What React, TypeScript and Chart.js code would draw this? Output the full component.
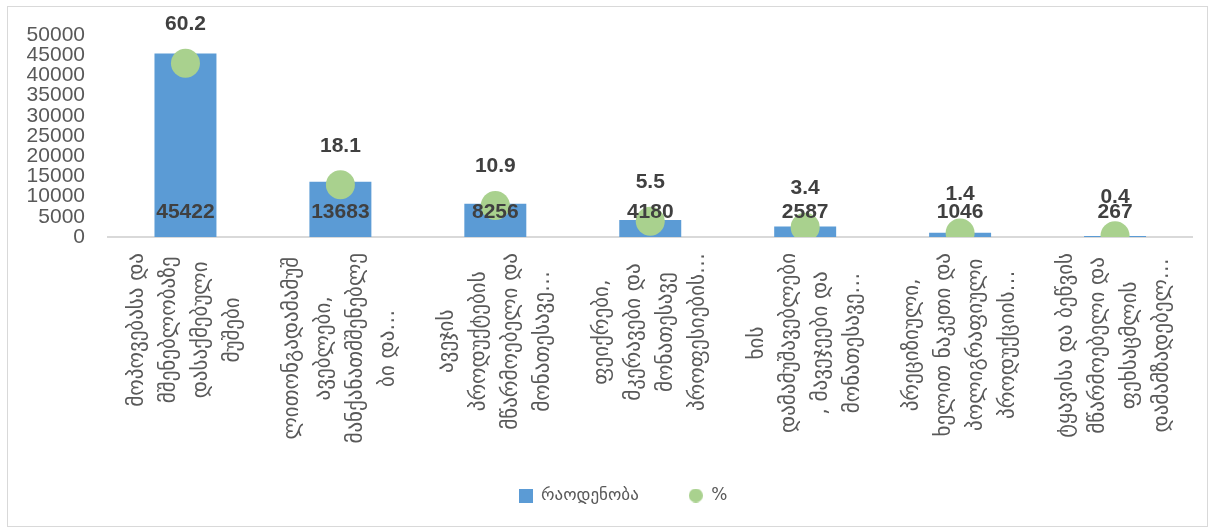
import React, { useEffect, useRef } from "react";
import { Chart, registerables } from "chart.js";

Chart.register(...registerables);

const categoryLines: string[][] = [
  ["მოპოვებასა და", "მშენებლობაზე", "დასაქმებული", "მუშები"],
  ["ლითონგადამამუშ", "ავებლები,", "მანქანათმშენებლე", "ბი და…"],
  ["ავეჯის", "პროდუქტების", "მწარმოებელი და", "მონათესავე…"],
  ["ფეიქრები,", "მკერავები და", "მონათესავე", "პროფესიების…"],
  ["ხის", "დამამუშავებლები", ", მავეჯეები და", "მონათესავე…"],
  ["პრეციზიული,", "ხელით ნაკეთი და", "პოლიგრაფიული", "პროდუქციის…"],
  ["ტყავისა და ბეწვის", "მწარმოებელი და", "ფეხსაცმლის", "დამამზადებელ…"],
];
const categories: string[] = categoryLines.map((l) => l.join(" "));
const counts: number[] = [45422, 13683, 8256, 4180, 2587, 1046, 267];
const percents: number[] = [60.2, 18.1, 10.9, 5.5, 3.4, 1.4, 0.4];
const seriesNames: string[] = ["რაოდენობა", "%"];
const yMax = 50000;
const yStep = 5000;
const y2Max = 70;

const BAR_COLOR = "#5B9BD5";
const DOT_COLOR = "#A9D18E";
const LABEL_COLOR = "#404040";
const TEXT_COLOR = "#595959";
const NUM_FONT = '"Liberation Sans", Arial, sans-serif';
const GEO_FONT = '"DejaVu Sans", sans-serif';

function makeMarker(kind: "rect" | "circle", color: string): HTMLCanvasElement {
  const c = document.createElement("canvas");
  c.width = 14;
  c.height = 14;
  const g = c.getContext("2d")!;
  g.fillStyle = color;
  if (kind === "rect") {
    g.fillRect(0, 0, 14, 14);
  } else {
    g.beginPath();
    g.arc(7, 7, 7, 0, Math.PI * 2);
    g.fill();
  }
  return c;
}

const labelPlugin = {
  id: "customLabels",
  afterDatasetsDraw(chart: any) {
    const ctx = chart.ctx;
    const xs = chart.scales.x;
    const ys = chart.scales.y;
    const base = ys.getPixelForValue(0);
    ctx.save();
    ctx.textAlign = "center";
    ctx.textBaseline = "middle";
    ctx.fillStyle = LABEL_COLOR;
    ctx.font = `bold 21px ${NUM_FONT}`;
    const barMeta = chart.getDatasetMeta(0);
    barMeta.data.forEach((el: any, i: number) => {
      ctx.fillText(String(counts[i]), el.x, base - 25);
    });
    const ptMeta = chart.getDatasetMeta(1);
    ptMeta.data.forEach((el: any, i: number) => {
      ctx.fillText(percents[i].toFixed(1), el.x, el.y - 39);
    });
    ctx.fillStyle = TEXT_COLOR;
    ctx.font = `21px ${GEO_FONT}`;
    const top = base + 16;
    const lh = 32;
    categoryLines.forEach((lines, i) => {
      const cx = xs.getPixelForValue(i);
      const maxW = Math.max(...lines.map((l) => ctx.measureText(l).width));
      lines.forEach((line, j) => {
        const lx = cx + (j - (lines.length - 1) / 2) * lh;
        ctx.save();
        ctx.translate(lx, top + maxW / 2);
        ctx.rotate(-Math.PI / 2);
        ctx.fillText(line, 0, 0);
        ctx.restore();
      });
    });
    ctx.restore();
  },
};

const legendShift = {
  id: "legendShift",
  afterLayout(chart: any) {
    const lg = chart.legend;
    if (lg) {
      lg.left += 20;
      lg.right += 20;
    }
  },
};

export default function App() {
  const ref = useRef<HTMLCanvasElement | null>(null);
  useEffect(() => {
    if (!ref.current) return;
    const markers = [makeMarker("rect", BAR_COLOR), makeMarker("circle", DOT_COLOR)];
    const chart = new Chart(ref.current, {
      type: "bar",
      data: {
        labels: categories,
        datasets: [
          {
            type: "bar",
            label: seriesNames[0],
            data: counts,
            backgroundColor: BAR_COLOR,
            borderWidth: 0,
            barPercentage: 0.4,
            categoryPercentage: 1,
            yAxisID: "y",
            order: 1,
          } as any,
          {
            type: "line",
            label: seriesNames[1],
            data: percents,
            showLine: false,
            pointRadius: 14.5,
            pointHoverRadius: 14.5,
            pointBackgroundColor: DOT_COLOR,
            pointBorderWidth: 0,
            backgroundColor: DOT_COLOR,
            borderColor: DOT_COLOR,
            yAxisID: "y2",
            order: 0,
          } as any,
        ],
      },
      options: {
        animation: false,
        responsive: false,
        maintainAspectRatio: false,
        layout: { padding: { top: 28, right: 9, bottom: 12, left: 0 } },
        scales: {
          x: {
            grid: { display: false, drawTicks: false },
            border: { display: true, color: "#D9D9D9", width: 2 },
            ticks: { display: false },
            afterFit: (s: any) => {
              s.height = 200;
            },
          },
          y: {
            min: 0,
            max: yMax,
            grid: { display: false, drawTicks: true, tickLength: 23 },
            border: { display: false },
            ticks: {
              stepSize: yStep,
              autoSkip: false,
              padding: 0,
              color: TEXT_COLOR,
              font: { family: NUM_FONT, size: 21 },
              callback: (v: any) => String(v),
            },
            afterFit: (s: any) => {
              s.width = 100;
            },
          },
          y2: {
            display: false,
            min: 0,
            max: y2Max,
          },
        },
        plugins: {
          tooltip: { enabled: false },
          legend: {
            display: true,
            position: "bottom",
            labels: {
              usePointStyle: true,
              boxWidth: 14,
              boxHeight: 14,
              padding: 50,
              color: TEXT_COLOR,
              font: { family: GEO_FONT, size: 17 },
              generateLabels: (c: any) => {
                const items = Chart.defaults.plugins.legend.labels.generateLabels(c);
                items.sort((a: any, b: any) => a.datasetIndex - b.datasetIndex);
                items.forEach((it: any) => {
                  it.pointStyle = markers[it.datasetIndex];
                  it.lineWidth = 0;
                  it.strokeStyle = "rgba(0,0,0,0)";
                  it.fillStyle = it.datasetIndex === 0 ? BAR_COLOR : DOT_COLOR;
                });
                return items;
              },
            },
          },
        },
      },
      plugins: [labelPlugin, legendShift],
    } as any);
    return () => chart.destroy();
  }, []);
  return (
    <div
      style={{
        position: "absolute",
        left: 7,
        top: 6,
        width: 1201,
        height: 521,
        border: "1px solid #D9D9D9",
        boxSizing: "border-box",
        background: "#fff",
      }}
    >
      <canvas ref={ref} width={1199} height={519} style={{ display: "block" }} />
    </div>
  );
}
